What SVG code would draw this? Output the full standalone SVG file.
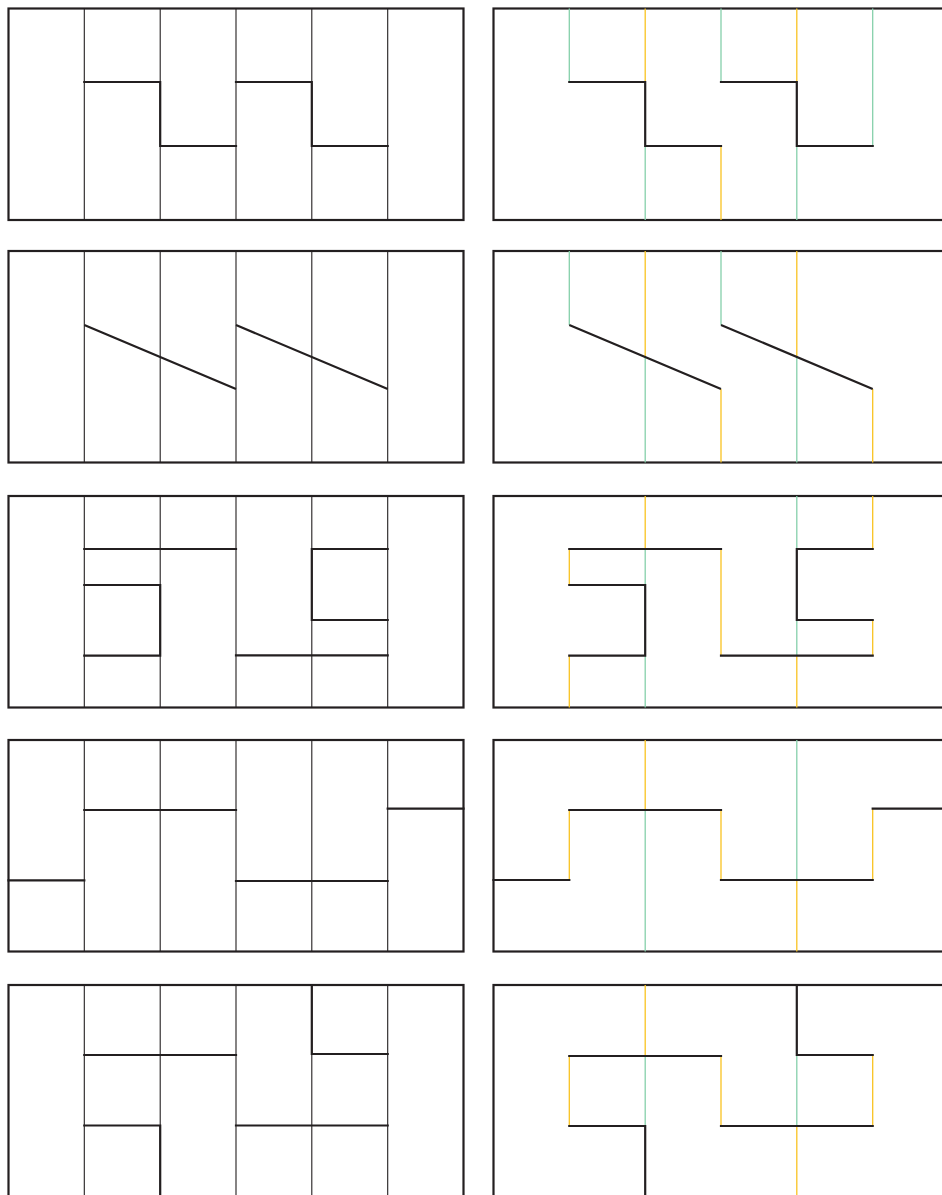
<svg xmlns="http://www.w3.org/2000/svg" width="942" height="1195" viewBox="0 0 942 1195">
<style>
.frame{fill:none;stroke:#231f20;stroke-width:2.2}
.thin{fill:none;stroke:#231f20;stroke-width:1.1}
.thick{fill:none;stroke:#231f20;stroke-width:2.2;stroke-linejoin:miter;stroke-linecap:square}
.g{fill:none;stroke:#86d0ab;stroke-width:1.3}
.y{fill:none;stroke:#f9c322;stroke-width:1.3}
</style>
<rect width="942" height="1195" fill="#ffffff"/>

<!-- Left column -->
<g id="left1">
<rect class="frame" x="8.5" y="8.5" width="455" height="211.5"/>
<path class="thin" d="M84.3,8.5V220M160.2,8.5V220M236,8.5V220M311.8,8.5V220M387.7,8.5V220"/>
<path class="thick" d="M84.3,82H160.2V146H236M236,82H311.8V146H387.7"/>
</g>
<g id="left2">
<rect class="frame" x="8.5" y="251" width="455" height="211.5"/>
<path class="thin" d="M84.3,251V462.5M160.2,251V462.5M236,251V462.5M311.8,251V462.5M387.7,251V462.5"/>
<path class="thick" d="M84.3,325L236,389M236,325L387.7,389" style="stroke-linecap:butt"/>
</g>
<g id="left3">
<rect class="frame" x="8.5" y="496" width="455" height="211.5"/>
<path class="thin" d="M84.3,496V707.5M160.2,496V707.5M236,496V707.5M311.8,496V707.5M387.7,496V707.5"/>
<path class="thick" d="M84.3,549H236M84.3,585H160.2V655.7H84.3M387.7,549H311.8V620H387.7M236,655.3H387.7"/>
</g>
<g id="left4">
<rect class="frame" x="8.5" y="740" width="455" height="211.5"/>
<path class="thin" d="M84.3,740V951.5M160.2,740V951.5M236,740V951.5M311.8,740V951.5M387.7,740V951.5"/>
<path class="thick" d="M8.5,880.3H84.3M84.3,810H236M236,881H387.7M387.7,808.7H463.5"/>
</g>
<g id="left5">
<rect class="frame" x="8.5" y="985" width="455" height="211.5"/>
<path class="thin" d="M84.3,985V1196.5M160.2,985V1196.5M236,985V1196.5M311.8,985V1196.5M387.7,985V1196.5"/>
<path class="thick" d="M84.3,1055H236M311.8,985V1054H387.7M84.3,1125.5H160.2V1197M236,1125.5H387.7"/>
</g>

<!-- Right column -->
<g id="right1">
<rect class="frame" x="493.5" y="8.5" width="455" height="211.5"/>
<path class="g" d="M569.3,8.5V82M645.2,146V220M721,8.5V82M796.8,146V220M872.7,8.5V146"/>
<path class="y" d="M645.2,8.5V82M721,146V220M796.8,8.5V82"/>
<path class="thick" d="M569.3,82H645.2V146H721M721,82H796.8V146H872.7"/>
</g>
<g id="right2">
<rect class="frame" x="493.5" y="251" width="455" height="211.5"/>
<path class="g" d="M569.3,251V325M645.2,357V462.5M721,251V325M796.8,357V462.5"/>
<path class="y" d="M645.2,251V357M721,389V462.5M796.8,251V357M872.7,389V462.5"/>
<path class="thick" d="M569.3,325L721,389M721,325L872.7,389" style="stroke-linecap:butt"/>
</g>
<g id="right3">
<rect class="frame" x="493.5" y="496" width="455" height="211.5"/>
<path class="g" d="M645.2,549V707.5M796.8,496V549M796.8,620V655.7"/>
<path class="y" d="M645.2,496V549M569.3,549V585M569.3,655.7V707.5M721,549V655.7M796.8,655.7V707.5M872.7,496V549M872.7,620V655.7"/>
<path class="thick" d="M569.3,549H721M569.3,585H645.2V655.7H569.3M721,655.7H872.7M872.7,549H796.8V620H872.7"/>
</g>
<g id="right4">
<rect class="frame" x="493.5" y="740" width="455" height="211.5"/>
<path class="g" d="M645.2,810V951.5M796.8,740V880"/>
<path class="y" d="M569.3,810V880M645.2,740V810M721,810V880M796.8,880V951.5M872.7,808.7V880"/>
<path class="thick" d="M493.5,880H569.3M569.3,810H721M721,880H872.7M872.7,808.7H948.5"/>
</g>
<g id="right5">
<rect class="frame" x="493.5" y="985" width="455" height="211.5"/>
<path class="g" d="M645.2,1056V1126M796.8,1055V1126"/>
<path class="y" d="M645.2,985V1056M569.3,1056V1126M721,1056V1126M796.8,1126V1196.5M872.7,1055V1126"/>
<path class="thick" d="M569.3,1056H721M569.3,1126H645.2V1197M721,1126H872.7M796.8,985V1055H872.7"/>
</g>
<g id="connectors"/>
</svg>
